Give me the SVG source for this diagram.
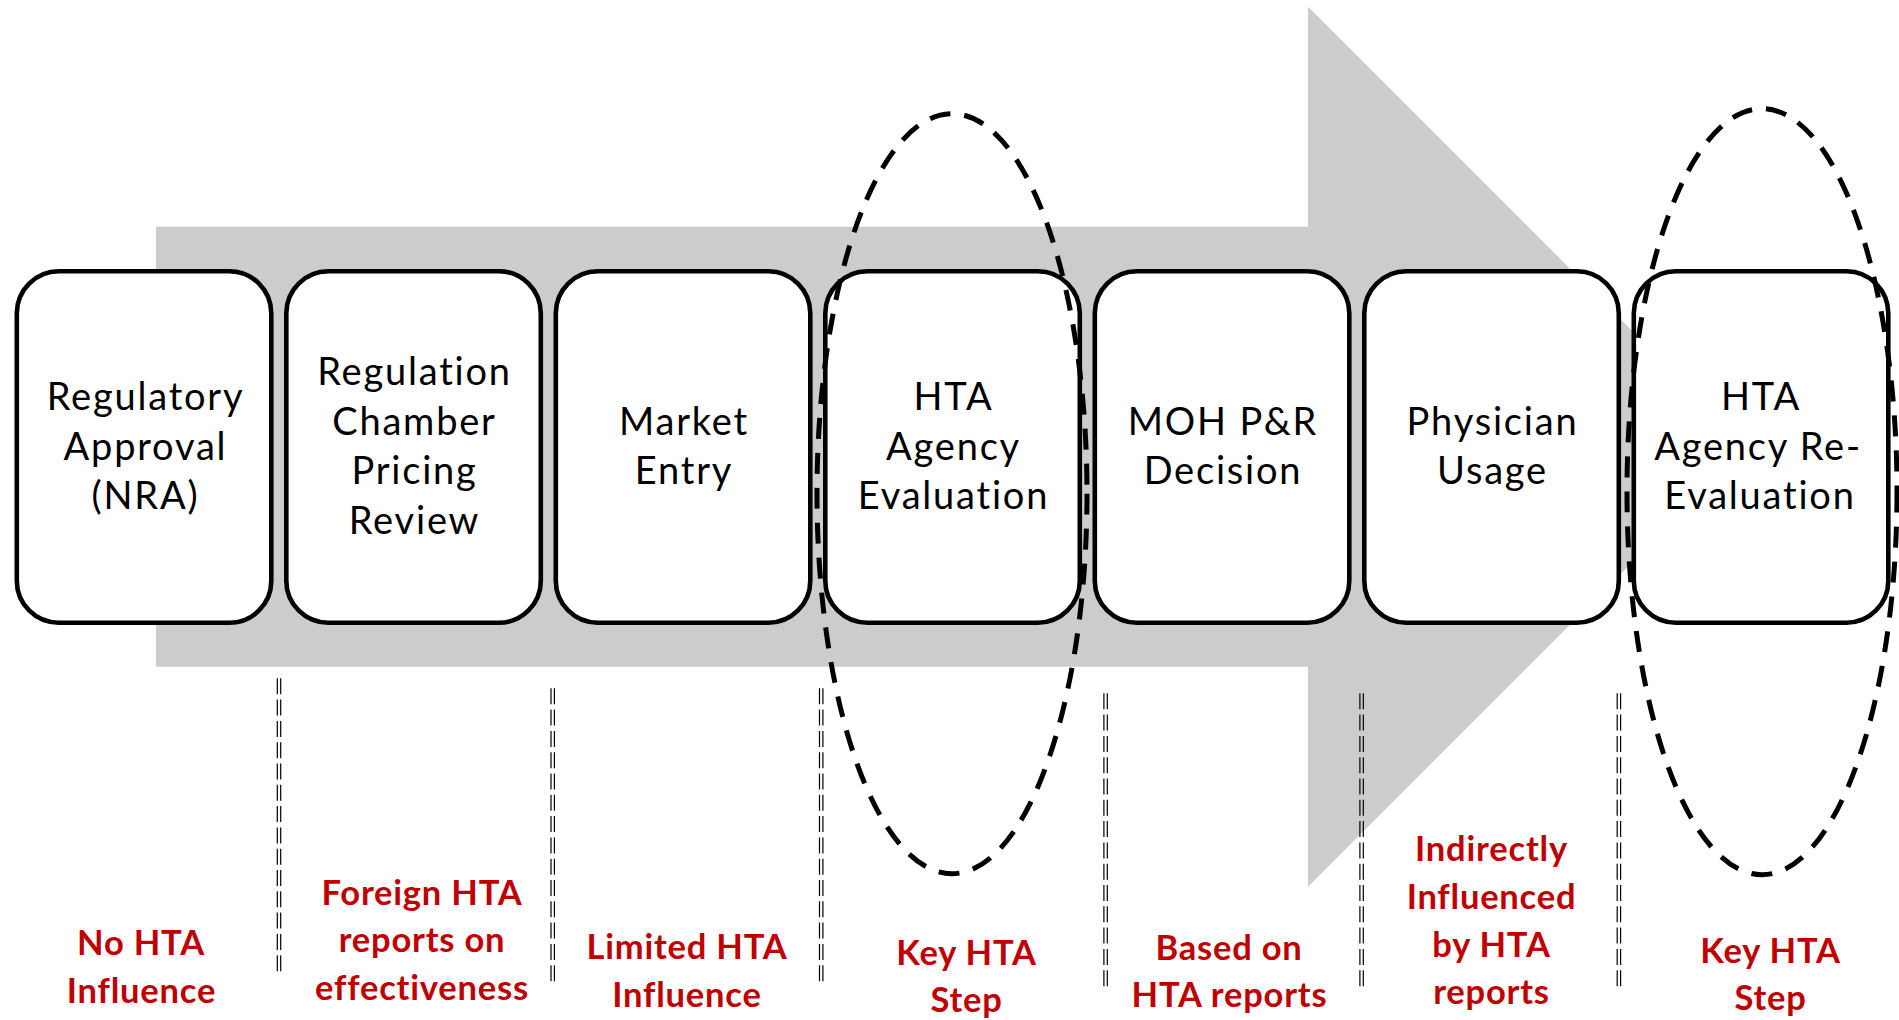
<svg xmlns="http://www.w3.org/2000/svg" width="1899" height="1020" viewBox="0 0 1899 1020">
<style>
.box{fill:#ffffff;stroke:#000000;stroke-width:4.6}
.bt{font-family:Lato,"Liberation Sans",sans-serif;font-size:38px;letter-spacing:1.8px;fill:#000000;text-anchor:middle}
.rt{font-family:Lato,"Liberation Sans",sans-serif;font-size:34.5px;letter-spacing:0.8px;font-weight:bold;fill:#C00000;text-anchor:middle}
.oval{fill:none;stroke:#000000;stroke-width:5;stroke-dasharray:21 14}
.div line{stroke:#000000;stroke-width:1.2;stroke-dasharray:16 5.3}
</style>
<rect width="1899" height="1020" fill="#ffffff"/>
<polygon id="flow-arrow" points="156,226.7 1308,226.7 1308,6.7 1748,446.7 1308,886.7 1308,666.7 156,666.7" fill="#cccccc"/>
<g id="node-regulatory-approval">
<rect class="box" x="16.8" y="271.2" width="254.5" height="351.6" rx="42" ry="42"/>
<text class="bt"><tspan x="145.5" y="410">Regulatory</tspan><tspan x="145.5" y="459.7">Approval</tspan><tspan x="145.5" y="509.4">(NRA)</tspan></text>
</g>
<g id="node-pricing-review">
<rect class="box" x="286.3" y="271.2" width="254.5" height="351.6" rx="42" ry="42"/>
<text class="bt"><tspan x="414.5" y="385">Regulation</tspan><tspan x="414.5" y="434.7">Chamber</tspan><tspan x="414.5" y="484.4">Pricing</tspan><tspan x="414.5" y="534.1">Review</tspan></text>
</g>
<g id="node-market-entry">
<rect class="box" x="555.8" y="271.2" width="254.5" height="351.6" rx="42" ry="42"/>
<text class="bt"><tspan x="684" y="434.7">Market</tspan><tspan x="684" y="484.4">Entry</tspan></text>
</g>
<g id="node-hta-evaluation">
<rect class="box" x="825.3" y="271.2" width="254.5" height="351.6" rx="42" ry="42"/>
<text class="bt"><tspan x="953.5" y="410">HTA</tspan><tspan x="953.5" y="459.7">Agency</tspan><tspan x="953.5" y="509.4">Evaluation</tspan></text>
</g>
<g id="node-moh-decision">
<rect class="box" x="1094.8" y="271.2" width="254.5" height="351.6" rx="42" ry="42"/>
<text class="bt"><tspan x="1223" y="434.7">MOH P&amp;R</tspan><tspan x="1223" y="484.4">Decision</tspan></text>
</g>
<g id="node-physician-usage">
<rect class="box" x="1364.3" y="271.2" width="254.5" height="351.6" rx="42" ry="42"/>
<text class="bt"><tspan x="1492.5" y="434.7">Physician</tspan><tspan x="1492.5" y="484.4">Usage</tspan></text>
</g>
<g id="node-hta-reevaluation">
<rect class="box" x="1633.8" y="271.2" width="254.5" height="351.6" rx="42" ry="42"/>
<text class="bt"><tspan x="1761" y="410">HTA</tspan><tspan x="1758" y="459.7">Agency Re-</tspan><tspan x="1760" y="509.4">Evaluation</tspan></text>
</g>
<g id="key-step-highlights">
<ellipse class="oval" cx="952" cy="493.7" rx="135" ry="380"/>
<ellipse class="oval" cx="1762" cy="491.7" rx="135" ry="383"/>
</g>
<g id="connectors" class="div">
<line x1="277.3" y1="678.3" x2="277.3" y2="971.7"/><line x1="280.7" y1="678.3" x2="280.7" y2="971.7"/>
<line x1="551" y1="688.3" x2="551" y2="981.7"/><line x1="554.4" y1="688.3" x2="554.4" y2="981.7"/>
<line x1="819.5" y1="688.3" x2="819.5" y2="981.7"/><line x1="822.9" y1="688.3" x2="822.9" y2="981.7"/>
<line x1="1103.9" y1="693.3" x2="1103.9" y2="987.3"/><line x1="1107.3" y1="693.3" x2="1107.3" y2="987.3"/>
<line x1="1359.9" y1="693.3" x2="1359.9" y2="987.3"/><line x1="1363.3" y1="693.3" x2="1363.3" y2="987.3"/>
<line x1="1617.2" y1="693.3" x2="1617.2" y2="987.3"/><line x1="1620.6" y1="693.3" x2="1620.6" y2="987.3"/>
</g>
<g id="label-no-hta">
<text class="rt"><tspan x="141" y="955">No HTA</tspan><tspan x="141.5" y="1002.7">Influence</tspan></text>
</g>
<g id="label-foreign-hta">
<text class="rt"><tspan x="422" y="905">Foreign HTA</tspan><tspan x="422" y="951.7">reports on</tspan><tspan x="422" y="1000">effectiveness</tspan></text>
</g>
<g id="label-limited-hta">
<text class="rt"><tspan x="687" y="959.3">Limited HTA</tspan><tspan x="687" y="1007.3">Influence</tspan></text>
</g>
<g id="label-key-hta-1">
<text class="rt"><tspan x="966.5" y="965">Key HTA</tspan><tspan x="966.5" y="1011.7">Step</tspan></text>
</g>
<g id="label-based-on">
<text class="rt"><tspan x="1229" y="960">Based on</tspan><tspan x="1229.5" y="1007.3">HTA reports</tspan></text>
</g>
<g id="label-indirectly">
<text class="rt"><tspan x="1491.5" y="860.7">Indirectly</tspan><tspan x="1491.5" y="909.3">Influenced</tspan><tspan x="1491.5" y="956.7">by HTA</tspan><tspan x="1491.5" y="1004">reports</tspan></text>
</g>
<g id="label-key-hta-2">
<text class="rt"><tspan x="1770.5" y="962.7">Key HTA</tspan><tspan x="1770.5" y="1010">Step</tspan></text>
</g>
</svg>
